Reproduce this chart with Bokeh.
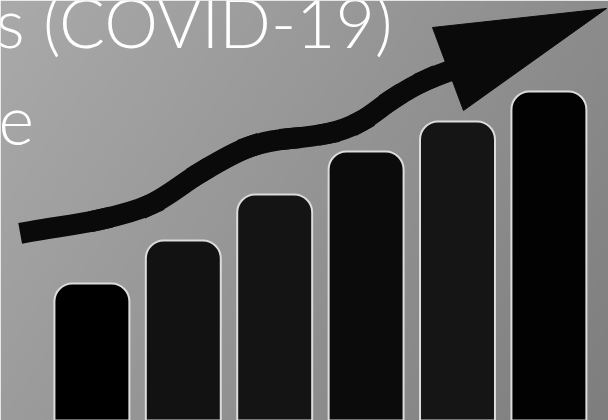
import numpy as np
from bokeh.plotting import figure
from bokeh.models import Range1d
from bokeh.core.properties import value
from bokeh.embed import file_html
from bokeh.resources import INLINE

# ---- data ----
categories = [1, 2, 3, 4, 5, 6]
values = [137, 180, 226, 269, 299, 329]
bar_colors = ["#000000", "#121212", "#141414", "#0b0b0b", "#151515", "#020202"]

# arrow shaft knots (px from left, px from top) with slopes
knot_x = [30, 100, 150, 200, 250, 290, 327, 360, 393, 427, 458]
knot_y = [231, 219, 204, 172, 146, 138, 133, 121, 98, 79, 67]
knot_s = [-0.18, -0.22, -0.45, -0.6, -0.35, -0.1, -0.2, -0.55, -0.65, -0.45, -0.4]
head_x = [432, 606, 463]
head_y = [27, 8, 110]

line1 = "s (COVID-19)"
line2 = "e"

W, H = 608, 420

p = figure(width=W, height=H, output_backend="svg", toolbar_location=None,
           x_range=Range1d(0, 6.652), y_range=Range1d(0, H),
           min_border=0, border_fill_color=None, outline_line_color=None)
p.extra_x_ranges = {"px": Range1d(0, W)}
p.axis.visible = False
p.grid.visible = False

# background gradient
gx = np.linspace(0, 1, 152)[None, :]
gy = np.linspace(0, 1, 105)[:, None]  # row 0 = bottom
tl, tr, bl, br = 170, 140, 156, 126
g = (bl * (1 - gx) * (1 - gy) + br * gx * (1 - gy) + tl * (1 - gx) * gy + tr * gx * gy)
rgba = np.zeros((105, 152, 4), dtype=np.uint8)
rgba[..., 0] = g
rgba[..., 1] = g
rgba[..., 2] = g
rgba[..., 3] = 255
img = rgba.view(np.uint32).reshape(105, 152)
p.image_rgba(image=[img], x=0, y=0, dw=W, dh=H, x_range_name="px")

# bars
p.vbar(x=categories, top=values, bottom=-10, width=0.82, fill_color=bar_colors,
       line_color="#dcdcdc", line_width=2, border_radius=(18, 18, 0, 0))

# arrow shaft as Hermite bezier segments
x0, y0, x1, y1, cx0, cy0, cx1, cy1 = [], [], [], [], [], [], [], []
for i in range(len(knot_x) - 1):
    dx = knot_x[i + 1] - knot_x[i]
    ya, yb = H - knot_y[i], H - knot_y[i + 1]
    sa, sb = -knot_s[i], -knot_s[i + 1]
    x0.append(knot_x[i]); y0.append(ya)
    x1.append(knot_x[i + 1]); y1.append(yb)
    cx0.append(knot_x[i] + dx / 3); cy0.append(ya + sa * dx / 3)
    cx1.append(knot_x[i + 1] - dx / 3); cy1.append(yb - sb * dx / 3)
p.bezier(x0=x0, y0=y0, x1=x1, y1=y1, cx0=cx0, cy0=cy0, cx1=cx1, cy1=cy1,
         line_width=21, line_color="#0a0a0a", line_cap="square", x_range_name="px")
p.patch(head_x, [H - v for v in head_y], fill_color="#0a0a0a", line_color="#0a0a0a",
        line_width=1, x_range_name="px")

# title text (cropped as in the original)
p.text(x=[392], y=[H - 21], text=[line1], text_align="right", text_baseline="alphabetic",
       text_font=value("Lato Light"), text_font_size="68px", text_color="white",
       x_range_name="px")
p.text(x=[-2], y=[H - 120], text=[line2], text_align="left", text_baseline="alphabetic",
       text_font=value("Lato Light"), text_font_size="68px", text_color="white",
       x_range_name="px")

html = file_html(p, INLINE)
html = html.replace("<head>", "<head><style>html,body{margin:0;padding:0;overflow:hidden}</style>", 1)
open("out.html", "w").write(html)
